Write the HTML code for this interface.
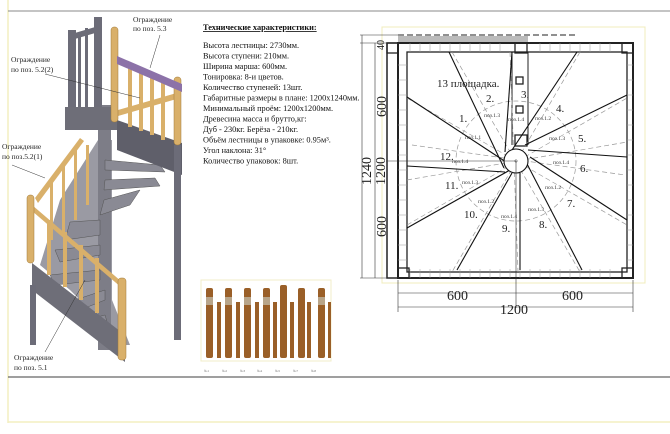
<!DOCTYPE html>
<html><head><meta charset="utf-8"><style>
html,body{margin:0;padding:0;background:#fff;}
body{width:670px;height:434px;overflow:hidden;position:relative;font-family:"Liberation Serif",serif;}
svg{position:absolute;left:0;top:0;}
</style></head><body>
<svg width="670" height="434" viewBox="0 0 670 434" xmlns="http://www.w3.org/2000/svg" font-family="Liberation Serif, serif">
<line x1="8" y1="0" x2="8" y2="423" stroke="#f3efc0" stroke-width="1.5"/>
<line x1="8" y1="422" x2="670" y2="422" stroke="#f3efc0" stroke-width="1.5"/>
<line x1="8" y1="11" x2="670" y2="11" stroke="#888" stroke-width="1"/>
<line x1="8" y1="377" x2="670" y2="377" stroke="#666" stroke-width="1.2"/>

<g>
 <!-- spiral tread mass -->
 <polygon points="98,140 60,200 40,265 70,290 100,320 115,345 130,345 112,300 112,140" fill="#9a9aa3"/>
 <rect x="98" y="105" width="13" height="245" fill="#7d7d87"/>
 <g fill="#8a8a94" stroke="#555" stroke-width="0.5">
  <polygon points="105,160 160,165 165,172 105,170"/>
  <polygon points="105,180 155,178 160,186 104,190"/>
  <polygon points="104,200 140,190 130,205 100,215"/>
  <polygon points="100,220 70,222 65,240 100,235"/>
  <polygon points="100,245 55,250 60,262 100,255"/>
  <polygon points="100,270 50,275 55,285 100,280"/>
  <polygon points="105,290 75,300 80,310 105,300"/>
  <polygon points="105,315 85,320 90,330 108,325"/>
 </g>
 <rect x="68" y="30" width="8" height="80" fill="#6c6c78"/>
 <rect x="94" y="17" width="8" height="93" fill="#6c6c78"/>
 <rect x="78" y="32" width="3" height="75" fill="#6c6c78"/>
 <rect x="85" y="28" width="3" height="80" fill="#6c6c78"/>
 <polygon points="68,35 102,25 102,31 68,41" fill="#6c6c78"/>
 <rect x="65" y="107" width="53" height="23" fill="#6e6e78"/>
 <polygon points="117,120 182,143 182,175 117,150" fill="#5f5f6a"/>
 <rect x="174" y="145" width="7" height="195" fill="#6c6c78"/>
 <g fill="#d9b06a">
  <rect x="128" y="67" width="4" height="60"/><rect x="139" y="71" width="4" height="60"/>
  <rect x="150" y="75" width="4" height="60"/><rect x="161" y="80" width="4" height="60"/>
  <polygon points="118,110 180,92 180,98 118,116"/>
 </g>
 <rect x="111" y="27" width="7" height="95" rx="3" fill="#d9b06a" stroke="#a07a3a" stroke-width="0.5"/>
 <rect x="174" y="77" width="7" height="68" rx="3" fill="#d9b06a" stroke="#a07a3a" stroke-width="0.5"/>
 <polygon points="117,56 182,84 182,92 117,64" fill="#8c72a8"/>
 <polygon points="35,198 80,138 84,141 38,203" fill="#d9b06a"/>
 <g fill="#d9b06a"><rect x="50" y="180" width="3" height="60"/><rect x="62" y="165" width="3" height="70"/><rect x="74" y="150" width="3" height="70"/><rect x="86" y="145" width="3" height="60"/></g>
 <polygon points="32,263 125,335 125,362 32,290" fill="#6e6e78"/>
 <rect x="30" y="285" width="6" height="60" fill="#6c6c78"/>
 <g fill="#d9b06a">
  <rect x="47" y="220" width="4" height="55"/><rect x="63" y="232" width="4" height="55"/>
  <rect x="79" y="245" width="4" height="55"/><rect x="95" y="258" width="4" height="55"/>
  <polygon points="32,205 122,282 122,288 32,211"/>
 </g>
 <rect x="27" y="195" width="7" height="68" rx="3" fill="#d9b06a" stroke="#a07a3a" stroke-width="0.5"/>
 <rect x="118" y="278" width="8" height="82" rx="3" fill="#d9b06a" stroke="#a07a3a" stroke-width="0.5"/>
</g>
<g stroke="#333" stroke-width="0.5">
 <line x1="160" y1="35" x2="150" y2="68"/>
 <line x1="45" y1="74" x2="140" y2="98"/>
 <line x1="12" y1="165" x2="45" y2="178"/>
 <line x1="45" y1="352" x2="85" y2="280"/>
</g>
<g font-size="7.5" fill="#222">
 <text x="133" y="22">Ограждение</text><text x="133" y="31">по поз. 5.3</text>
 <text x="11" y="62">Ограждение</text><text x="11" y="72">по поз. 5.2(2)</text>
 <text x="2" y="149">Ограждение</text><text x="2" y="159">по поз.5.2(1)</text>
 <text x="14" y="360">Ограждение</text><text x="14" y="370">по поз. 5.1</text>
</g>

<g font-size="8.3" fill="#111">
 <text x="203" y="30" font-weight="bold" text-decoration="underline">Технические характеристики:</text>
 <text x="203" y="48">Высота лестницы: 2730мм.</text>
 <text x="203" y="58.5">Высота ступени: 210мм.</text>
 <text x="203" y="69">Ширина марша: 600мм.</text>
 <text x="203" y="79.5">Тонировка: 8-и цветов.</text>
 <text x="203" y="90">Количество ступеней: 13шт.</text>
 <text x="203" y="100.5">Габаритные размеры в плане: 1200x1240мм.</text>
 <text x="203" y="111">Минимальный проём: 1200x1200мм.</text>
 <text x="203" y="121.5">Древесина масса и брутто,кг:</text>
 <text x="203" y="132">Дуб - 230кг. Берёза - 210кг.</text>
 <text x="203" y="142.5">Объём лестницы в упаковке: 0.95м³.</text>
 <text x="203" y="153">Угол наклона: 31°</text>
 <text x="203" y="163.5">Количество упаковок: 8шт.</text>
</g>

<rect x="201" y="280" width="130" height="81" fill="#fff" stroke="#f1edc8"/>
<g fill="#9a5f28">
 <rect x="206" y="288" width="7" height="70" rx="2"/><rect x="217" y="302" width="4" height="56"/>
 <rect x="225" y="288" width="7" height="70" rx="2"/><rect x="236" y="302" width="4" height="56"/>
 <rect x="244" y="288" width="7" height="70" rx="2"/><rect x="255" y="302" width="4" height="56"/>
 <rect x="263" y="288" width="7" height="70" rx="2"/><rect x="273" y="302" width="4" height="56"/>
 <rect x="280" y="285" width="7" height="73" rx="2"/><rect x="290" y="302" width="4" height="56"/>
 <rect x="298" y="288" width="7" height="70" rx="2"/><rect x="307" y="302" width="4" height="56"/>
 <rect x="318" y="288" width="7" height="70" rx="2"/><rect x="328" y="302" width="3" height="56"/>
</g>
<g fill="#b8a58a"><rect x="206" y="297" width="7" height="8"/><rect x="225" y="297" width="7" height="8"/><rect x="244" y="297" width="7" height="8"/><rect x="263" y="297" width="7" height="8"/><rect x="318" y="297" width="7" height="8"/></g>
<g font-size="3.5" fill="#777"><text x="204" y="372">№1</text><text x="222" y="372">№2</text><text x="240" y="372">№3</text><text x="257" y="372">№4</text><text x="275" y="372">№5</text><text x="293" y="372">№7</text><text x="311" y="372">№8</text></g>

<rect x="382" y="27" width="263" height="256" fill="none" stroke="#f0ecbc" stroke-width="1"/>
<line x1="398" y1="35" x2="577" y2="35" stroke="#222" stroke-dasharray="6,3"/>
<rect x="398" y="36" width="130" height="6" fill="#bbb"/>
<rect x="387" y="43" width="246" height="235" fill="none" stroke="#222" stroke-width="1.5"/>
<rect x="398" y="43" width="235" height="235" fill="none" stroke="#222" stroke-width="2"/>
<rect x="407" y="52" width="220" height="220" fill="none" stroke="#222" stroke-width="1.3"/>
<g stroke="#999" stroke-width="0.5">
 <path d="M410,43v9M420,43v9M430,43v9M440,43v9M450,43v9M460,43v9M470,43v9M480,43v9M490,43v9M500,43v9M540,43v9M550,43v9M560,43v9M570,43v9M580,43v9M590,43v9M600,43v9M610,43v9"/>
 <path d="M410,269v9M420,269v9M430,269v9M440,269v9M450,269v9M460,269v9M470,269v9M480,269v9M490,269v9M500,269v9M510,269v9M520,269v9M530,269v9M540,269v9M550,269v9M560,269v9M570,269v9M580,269v9M590,269v9M600,269v9M610,269v9"/>
 <path d="M398,65h9M398,80h9M398,95h9M398,110h9M398,125h9M398,140h9M398,155h9M398,170h9M398,185h9M398,200h9M398,215h9M398,230h9M398,245h9M398,260h9"/>
 <path d="M627,65h6M627,80h6M627,95h6M627,110h6M627,125h6M627,140h6M627,155h6M627,170h6M627,185h6M627,200h6M627,215h6M627,230h6M627,245h6M627,260h6"/>
</g>
<g fill="none" stroke="#222" stroke-width="1.3">
 <rect x="387" y="43" width="11" height="10"/><rect x="515" y="43" width="12" height="10"/>
 <rect x="622" y="43" width="11" height="10"/><rect x="398" y="268" width="11" height="10"/><rect x="622" y="268" width="11" height="10"/>
 <rect x="516" y="77" width="7" height="7"/><rect x="516" y="106" width="7" height="7"/><rect x="515" y="135" width="12" height="11"/>
</g>
<line x1="512" y1="52" x2="512" y2="145" stroke="#222"/><line x1="528" y1="52" x2="528" y2="145" stroke="#222"/>
<g stroke="#999" stroke-width="0.7" stroke-dasharray="5,3" fill="none">
 <circle cx="516" cy="161" r="60"/>
 <line x1="407" y1="98" x2="627" y2="225"/><line x1="407" y1="225" x2="627" y2="98"/>
 <line x1="452" y1="52" x2="580" y2="272"/><line x1="580" y1="52" x2="452" y2="272"/>
 <line x1="407" y1="180" x2="627" y2="142"/><line x1="412" y1="145" x2="625" y2="175"/>
 <line x1="510" y1="52" x2="518" y2="272"/>
</g>
<g stroke="#111" stroke-width="1.1">
 <line x1="449" y1="52" x2="504" y2="168"/>
 <line x1="512" y1="52" x2="505" y2="152"/>
 <line x1="577" y1="52" x2="512" y2="150"/>
 <line x1="627" y1="95" x2="525" y2="145"/>
 <line x1="627" y1="157" x2="528" y2="150"/>
 <line x1="627" y1="220" x2="530" y2="157"/>
 <line x1="582" y1="270" x2="525" y2="160"/>
 <line x1="520" y1="270" x2="520" y2="173"/>
 <line x1="457" y1="270" x2="512" y2="173"/>
 <line x1="407" y1="228" x2="510" y2="170"/>
 <line x1="407" y1="166" x2="505" y2="172"/>
 <line x1="407" y1="97" x2="506" y2="162"/>
</g>
<circle cx="516" cy="161" r="12" fill="#fff" stroke="#111" stroke-width="1.1"/>
<circle cx="516" cy="161" r="1.2" fill="none" stroke="#333" stroke-width="0.5"/>
<line x1="386" y1="161" x2="516" y2="161" stroke="#333" stroke-width="0.6"/>
<line x1="516" y1="161" x2="516" y2="308" stroke="#333" stroke-width="0.6"/>
<g stroke="#333" stroke-width="0.6">
 <line x1="362" y1="35" x2="362" y2="278"/><line x1="375" y1="43" x2="375" y2="278"/>
 <line x1="360" y1="35" x2="400" y2="35"/><line x1="360" y1="43" x2="400" y2="43"/><line x1="360" y1="278" x2="400" y2="278"/>
 <line x1="398" y1="280" x2="398" y2="312"/><line x1="633" y1="280" x2="633" y2="312"/>
 <line x1="398" y1="293" x2="633" y2="293"/><line x1="398" y1="307" x2="633" y2="307"/>
</g>
<g font-size="14" fill="#222">
 <text transform="translate(384,50) rotate(-90)" font-size="10">40</text>
 <text transform="translate(371,185) rotate(-90)">1240</text>
 <text transform="translate(385,185) rotate(-90)">1200</text>
 <text transform="translate(386,117) rotate(-90)">600</text>
 <text transform="translate(386,237) rotate(-90)">600</text>
 <text x="447" y="300">600</text><text x="562" y="300">600</text><text x="500" y="314">1200</text>
</g>
<g font-size="11" fill="#222">
 <text x="437" y="87">13 площадка.</text>
 <text x="486" y="102">2.</text><text x="521" y="98">3.</text><text x="556" y="112">4.</text><text x="578" y="142">5.</text>
 <text x="580" y="172">6.</text><text x="567" y="207">7.</text><text x="539" y="228">8.</text><text x="502" y="232">9.</text>
 <text x="464" y="218">10.</text><text x="445" y="189">11.</text><text x="440" y="160">12.</text><text x="459" y="122">1.</text>
</g>
<g font-size="5.5" fill="#333">
 <text x="484" y="117">поз.1.3</text><text x="508" y="121">поз.1.4</text><text x="535" y="120">поз.1.2</text>
 <text x="465" y="139">поз.1.1</text><text x="549" y="140">поз.1.3</text><text x="553" y="164">поз.1.4</text>
 <text x="452" y="163">поз.1.4</text><text x="462" y="184">поз.1.3</text><text x="545" y="189">поз.1.2</text>
 <text x="478" y="203">поз.1.2</text><text x="528" y="211">поз.1.3</text><text x="501" y="218">поз.1.4</text>
</g>
</svg>
</body></html>
